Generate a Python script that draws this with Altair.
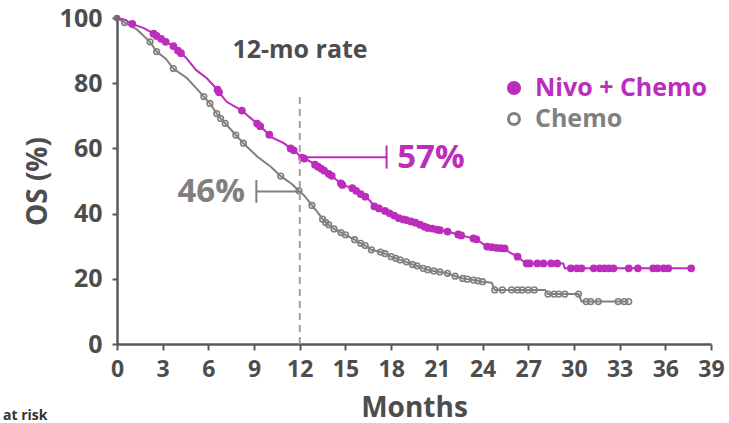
import altair as alt
import pandas as pd

# ---- data ----
nivo_months = [0, 0.5, 1.0, 1.8, 2.4, 2.6, 2.9, 3.2, 3.7, 4.0, 4.2, 4.5, 5.2, 5.9, 6.6, 6.7, 7.2,
               8.2, 8.4, 9.2, 9.4, 10.0, 10.1, 10.95, 11.4, 11.6, 12.15, 12.3, 12.8, 13.0, 13.2,
               13.4, 13.6, 13.9, 14.1, 14.4, 14.7, 14.8, 15.45, 15.7, 16.0, 16.3, 16.6, 16.9,
               17.2, 17.6, 17.9, 18.2, 18.5, 18.8, 19.0, 19.3, 19.6, 19.9, 20.2, 20.4, 20.7,
               21.0, 21.2, 21.7, 22.4, 22.6, 23.4, 23.6, 24.3, 24.6, 24.9, 25.2, 25.45, 25.8,
               26.3, 26.6, 26.9, 27.1, 27.6, 28.0, 28.5, 28.9, 29.3, 29.4, 29.8, 30.2, 30.5,
               31.3, 31.7, 32.0, 32.3, 32.6, 33.6, 34.2, 35.2, 35.5, 35.9, 36.2, 37.7]
nivo_os = [100, 99.5, 98.2, 96.8, 95.2, 94.5, 93.6, 92.7, 91.4, 90.0, 89.2, 88.0, 84.0, 81.5, 78.0,
           77.2, 74.3, 71.6, 70.8, 67.6, 66.8, 64.2, 63.5, 61.6, 60.0, 59.4, 57.2, 56.9, 55.7,
           55.0, 54.4, 53.8, 53.2, 52.2, 51.6, 50.4, 49.3, 48.8, 47.8, 47.0, 46.0, 45.2, 44.0,
           42.2, 41.6, 40.8, 40.1, 39.4, 38.6, 38.2, 38.0, 37.6, 37.2, 36.6, 36.0, 35.6, 35.4,
           35.1, 34.9, 34.5, 33.6, 33.3, 32.4, 32.1, 29.9, 29.7, 29.5, 29.4, 29.3, 28.0,
           26.8, 25.6, 24.7, 24.7, 24.7, 24.7, 24.7, 24.7, 24.7, 23.2, 23.2, 23.2, 23.2,
           23.2, 23.2, 23.2, 23.2, 23.2, 23.2, 23.2, 23.2, 23.2, 23.2, 23.2, 23.2]
nivo_censored = [0, 0, 1, 0, 1, 1, 1, 1, 1, 1, 1, 0, 0, 0, 1, 1, 0,
                 1, 0, 1, 1, 1, 0, 0, 1, 1, 1, 1, 0, 1, 1,
                 1, 1, 1, 1, 0, 1, 1, 1, 1, 1, 1, 0, 1,
                 1, 1, 1, 1, 1, 1, 1, 1, 1, 1, 1, 1, 1,
                 1, 1, 1, 1, 1, 1, 1, 1, 1, 1, 1, 1, 0,
                 1, 0, 1, 1, 1, 1, 1, 1, 0, 0, 1, 1, 1,
                 1, 1, 1, 1, 1, 1, 1, 1, 1, 1, 1, 1]

chemo_months = [0, 0.5, 1.3, 2.17, 2.6, 3.2, 3.7, 4.6, 5.2, 5.7, 6.1, 6.55, 6.8, 7.1, 7.8, 8.3,
                9.2, 10.1, 10.75, 11.5, 11.95, 12.3, 12.8, 13.2, 13.5, 13.7, 13.9, 14.25, 14.7,
                15.0, 15.6, 16.0, 16.3, 16.7, 17.3, 17.6, 18.0, 18.3, 18.6, 19.0, 19.4, 19.7,
                20.1, 20.4, 20.8, 21.2, 21.7, 22.2, 22.7, 23.0, 23.4, 23.7, 24.0, 24.6, 24.8,
                25.3, 25.9, 26.3, 26.6, 27.0, 27.4, 28.1, 28.3, 28.7, 29.0, 29.4, 30.3, 30.5,
                30.8, 31.1, 31.6, 32.9, 33.3, 33.6]
chemo_os = [100, 98.6, 96.5, 92.7, 89.7, 87.5, 84.5, 81.5, 78.5, 75.9, 73.8, 70.7, 69.2, 67.7,
            64.1, 61.6, 57.5, 54.4, 51.5, 49.0, 47.0, 45.5, 42.5, 40.2, 38.3, 37.3, 36.6, 35.3,
            34.2, 33.5, 32.0, 30.9, 30.2, 28.9, 28.2, 27.7, 26.8, 26.3, 25.8, 25.2, 24.4, 24.0,
            23.2, 22.8, 22.4, 22.1, 21.7, 20.8, 20.1, 19.9, 19.6, 19.4, 19.1, 18.8, 16.6,
            16.6, 16.6, 16.6, 16.6, 16.6, 16.6, 16.6, 15.3, 15.3, 15.3, 15.3, 15.3, 13.0,
            13.0, 13.0, 13.0, 13.0, 13.0, 13.0]
chemo_censored = [0, 1, 0, 1, 1, 0, 1, 0, 0, 1, 1, 1, 1, 1, 1, 1,
                  0, 0, 1, 0, 1, 0, 1, 0, 1, 1, 1, 1, 1,
                  1, 1, 1, 1, 1, 1, 1, 1, 1, 1, 1, 1, 1,
                  1, 1, 1, 1, 1, 1, 1, 1, 1, 1, 1, 0, 1,
                  1, 1, 1, 1, 1, 1, 0, 1, 1, 1, 1, 1, 0,
                  1, 1, 1, 1, 1, 1]

x_ticks = [0, 3, 6, 9, 12, 15, 18, 21, 24, 27, 30, 33, 36, 39]
y_ticks = [0, 20, 40, 60, 80, 100]

rate_month = 12
nivo_rate = 57
chemo_rate = 46
series_labels = ["Nivo + Chemo", "Chemo"]

MAGENTA = "#BC2DBC"
GRAY = "#808080"
AXIS = "#595959"
TEXT = "#4D4D4D"
FONT = "Open Sans"

nivo = pd.DataFrame({"t": nivo_months, "os": nivo_os, "c": nivo_censored})
chemo = pd.DataFrame({"t": chemo_months, "os": chemo_os, "c": chemo_censored})

xs = alt.Scale(domain=[0, 39], nice=False, zero=False)
ys = alt.Scale(domain=[0, 100], nice=False)

X = alt.X("t:Q", scale=xs, title="Months",
          axis=alt.Axis(values=x_ticks, grid=False, titlePadding=13, labelFlush=False,
                        labelOverlap=False, labelFontSize=23, labelPadding=8, tickSize=6))
Y = alt.Y("os:Q", scale=ys, title="OS (%)",
          axis=alt.Axis(values=y_ticks, grid=False, titlePadding=7, labelFlush=False,
                        labelOverlap=False, labelFontSize=25, labelPadding=10, tickSize=5))

chemo_line = alt.Chart(chemo).mark_line(color=GRAY, strokeWidth=2).encode(x=X, y=Y)
chemo_marks = alt.Chart(chemo).transform_filter("datum.c == 1").mark_point(
    shape="circle", filled=False, color=GRAY, size=32, strokeWidth=1.6, opacity=1
).encode(x="t:Q", y="os:Q")
chemo_start = alt.Chart(chemo).transform_filter("datum.t == 0").mark_circle(
    color="#6e6e6e", size=45, opacity=1).encode(x="t:Q", y="os:Q")

nivo_line = alt.Chart(nivo).mark_line(color=MAGENTA, strokeWidth=2).encode(x="t:Q", y="os:Q")
nivo_marks = alt.Chart(nivo).transform_filter("datum.c == 1").mark_circle(
    color=MAGENTA, size=60, opacity=1).encode(x="t:Q", y="os:Q")

# dashed 12-month line
vline = alt.Chart(pd.DataFrame({"t": [rate_month], "y1": [0], "y2": [77]})).mark_rule(
    color="#A0A0A0", strokeWidth=2, strokeDash=[7, 5]
).encode(x="t:Q", y="y1:Q", y2="y2:Q")

# 57% annotation
n_h = alt.Chart(pd.DataFrame({"a": [rate_month], "b": [17.7], "y": [nivo_rate + 0.3]})).mark_rule(
    color=MAGENTA, strokeWidth=2).encode(x="a:Q", x2="b:Q", y="y:Q")
n_v = alt.Chart(pd.DataFrame({"x": [17.7], "a": [53.8], "b": [60.9]})).mark_rule(
    color=MAGENTA, strokeWidth=2).encode(x="x:Q", y="a:Q", y2="b:Q")
n_t = alt.Chart(pd.DataFrame({"x": [18.4], "y": [nivo_rate], "s": [f"{nivo_rate}%"]})).mark_text(
    color=MAGENTA, font=FONT, fontWeight="bold", fontSize=33, align="left", baseline="middle"
).encode(x="x:Q", y="y:Q", text="s:N")

# 46% annotation
c_h = alt.Chart(pd.DataFrame({"a": [9.15], "b": [rate_month], "y": [chemo_rate + 0.8]})).mark_rule(
    color=GRAY, strokeWidth=2).encode(x="a:Q", x2="b:Q", y="y:Q")
c_v = alt.Chart(pd.DataFrame({"x": [9.15], "a": [43.3], "b": [50.3]})).mark_rule(
    color=GRAY, strokeWidth=2).encode(x="x:Q", y="a:Q", y2="b:Q")
c_t = alt.Chart(pd.DataFrame({"x": [8.4], "y": [chemo_rate + 0.5], "s": [f"{chemo_rate}%"]})).mark_text(
    color=GRAY, font=FONT, fontWeight="bold", fontSize=33, align="right", baseline="middle"
).encode(x="x:Q", y="y:Q", text="s:N")

rate_title = alt.Chart(pd.DataFrame({"s": ["12-mo rate"]})).mark_text(
    color=TEXT, font=FONT, fontWeight="bold", fontSize=25, align="center", baseline="middle"
).encode(x=alt.value(183), y=alt.value(32), text="s:N")

# legend
leg_n_dot = alt.Chart(pd.DataFrame({"a": [0]})).mark_circle(color=MAGENTA, size=200, opacity=1).encode(
    x=alt.value(397), y=alt.value(70))
leg_c_dot = alt.Chart(pd.DataFrame({"a": [0]})).mark_point(
    shape="circle", filled=False, color=GRAY, size=120, strokeWidth=3, opacity=1).encode(
    x=alt.value(397), y=alt.value(101))
leg_n_txt = alt.Chart(pd.DataFrame({"s": [series_labels[0]]})).mark_text(
    color=MAGENTA, font=FONT, fontWeight="bold", fontSize=25, align="left", baseline="middle"
).encode(x=alt.value(418), y=alt.value(70), text="s:N")
leg_c_txt = alt.Chart(pd.DataFrame({"s": [series_labels[1]]})).mark_text(
    color=GRAY, font=FONT, fontWeight="bold", fontSize=25, align="left", baseline="middle"
).encode(x=alt.value(418), y=alt.value(101), text="s:N")

at_risk = alt.Chart(pd.DataFrame({"s": ["at risk"]})).mark_text(
    color="#333333", font=FONT, fontWeight="bold", fontSize=14, align="left", baseline="middle"
).encode(x=alt.value(-114), y=alt.value(398), text="s:N")

chart = alt.layer(
    chemo_line, chemo_marks, chemo_start, nivo_line, nivo_marks, vline,
    n_h, n_v, n_t, c_h, c_v, c_t, rate_title,
    leg_n_dot, leg_c_dot, leg_n_txt, leg_c_txt, at_risk
).properties(
    width=594, height=326,
    autosize=alt.AutoSizeParams(type="none"),
    padding={"left": 117, "top": 18, "right": 18, "bottom": 79},
).configure_view(stroke=None).configure_axis(
    domainColor=AXIS, domainWidth=2.5, tickColor=AXIS, tickWidth=2,
    labelFont=FONT, labelFontWeight="bold", labelColor=TEXT,
    titleFont=FONT, titleFontWeight="bold", titleFontSize=28, titleColor=TEXT,
)

chart.save("out.html", embed_options={"renderer": "svg", "actions": False})
